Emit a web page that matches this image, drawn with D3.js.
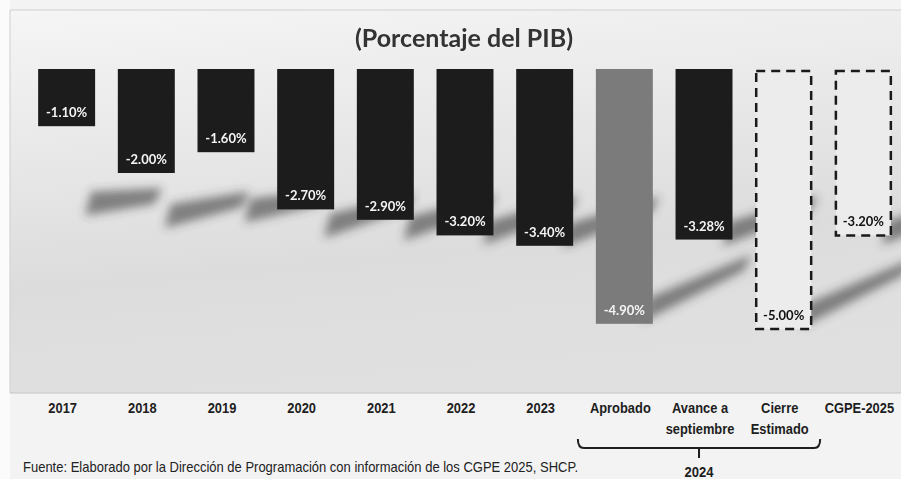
<!DOCTYPE html>
<html>
<head>
<meta charset="utf-8">
<script src="https://cdn.jsdelivr.net/npm/d3@7"></script>
<style>
  html, body { margin: 0; padding: 0; background: #ffffff; }
  svg { display: block; }
</style>
</head>
<body>
<svg id="chart" width="901" height="479"></svg>
<script>
// ---- Data ----
const categories = ["2017", "2018", "2019", "2020", "2021", "2022", "2023",
  "Aprobado", "Avance a\nseptiembre", "Cierre\nEstimado", "CGPE-2025"];
const values = [-1.10, -2.00, -1.60, -2.70, -2.90, -3.20, -3.40, -4.90, -3.28, -5.00, -3.20];
const barKinds = ["solid", "solid", "solid", "solid", "solid", "solid", "solid",
  "gray", "solid", "dashed", "dashed"];
const valueLabels = ["-1.10%", "-2.00%", "-1.60%", "-2.70%", "-2.90%", "-3.20%", "-3.40%",
  "-4.90%", "-3.28%", "-5.00%", "-3.20%"];
const groupLabel = "2024";
const groupMembers = ["Aprobado", "Cierre\nEstimado"];
const titleText = "(Porcentaje del PIB)";
const sourceText = "Fuente: Elaborado por la Dirección de Programación con información de los CGPE 2025, SHCP.";

// ---- Setup ----
const svg = d3.select("#chart");
const W = 901, H = 479;
const plot = { left: 10, top: 10, right: 901, bottom: 393 };

const x = d3.scaleBand().domain(categories).range([27, 903])
  .paddingInner(0.285).paddingOuter(0.14);
const y = d3.scaleLinear().domain([0, -5]).range([69, 329]);
const bw = x.bandwidth();

const defs = svg.append("defs");
const grad = defs.append("linearGradient").attr("id", "bg").attr("x1", 0).attr("y1", 0).attr("x2", 0.2).attr("y2", 1);
grad.append("stop").attr("offset", "0%").attr("stop-color", "#f5f5f5");
grad.append("stop").attr("offset", "35%").attr("stop-color", "#e9e9e9");
grad.append("stop").attr("offset", "70%").attr("stop-color", "#dcdcdc");
grad.append("stop").attr("offset", "100%").attr("stop-color", "#e0e0e0");
const blur = defs.append("filter").attr("id", "blur").attr("x", "-50%").attr("y", "-50%").attr("width", "200%").attr("height", "200%");
blur.append("feGaussianBlur").attr("stdDeviation", 5);

// page background
svg.append("rect").attr("width", W).attr("height", H).attr("fill", "#f3f3f3");
svg.append("rect").attr("x", 0).attr("y", 0).attr("width", plot.left).attr("height", H).attr("fill", "#fbfbfb");
// plot area
svg.append("rect").attr("x", plot.left).attr("y", plot.top)
  .attr("width", plot.right - plot.left).attr("height", plot.bottom - plot.top)
  .attr("fill", "url(#bg)");
svg.append("line").attr("x1", plot.left).attr("x2", plot.right).attr("y1", plot.top).attr("y2", plot.top)
  .attr("stroke", "#cfcfcf").attr("stroke-width", 1);
svg.append("line").attr("x1", plot.left).attr("x2", plot.left).attr("y1", plot.top).attr("y2", plot.bottom)
  .attr("stroke", "#cfcfcf").attr("stroke-width", 1);
svg.append("line").attr("x1", plot.left).attr("x2", plot.right).attr("y1", plot.bottom).attr("y2", plot.bottom)
  .attr("stroke", "#c4c4c4").attr("stroke-width", 1);

const data = categories.map((c, i) => ({ c, v: values[i], kind: barKinds[i], label: valueLabels[i] }));

// shadows
const shadowG = svg.append("g").attr("filter", "url(#blur)");
shadowG.selectAll("path").data(data).join("path")
  .attr("d", d => {
    const xr = x(d.c) + bw;
    const yb = y(d.v);
    const h = yb - y(0);
    const y0 = Math.max(yb - 2, 200 + 14 * Math.abs(d.v));
    const dx = 50 + 0.16 * h, dy = 0.2 * h;
    return d3.line()([[xr - 10, y0], [xr + dx, y0 - dy], [xr + dx + 8, y0 - dy - 16], [xr - 4, y0 - 24]]) + "Z";
  })
  .attr("fill", "#3e3e3e").attr("opacity", 0.6);

// title
svg.append("text").attr("x", 464).attr("y", 47).attr("text-anchor", "middle")
  .attr("font-family", "Lato, 'Open Sans', sans-serif").attr("font-weight", 700)
  .attr("font-size", 24).attr("fill", "#333")
  .attr("textLength", 218).attr("lengthAdjust", "spacingAndGlyphs")
  .text(titleText);

// bars
svg.append("g").selectAll("rect").data(data).join("rect")
  .attr("x", d => x(d.c) + (d.kind === "dashed" ? 1 : 0))
  .attr("y", d => y(0) + (d.kind === "dashed" ? 2 : 0))
  .attr("width", d => bw - (d.kind === "dashed" ? 2 : 0))
  .attr("height", d => y(d.v) - y(0) - (d.kind === "dashed" ? 2 : 0))
  .attr("fill", d => d.kind === "gray" ? "#7b7b7b" : d.kind === "dashed" ? "#ececec" : "#1c1c1c")
  .attr("stroke", d => d.kind === "dashed" ? "#1a1a1a" : "none")
  .attr("stroke-width", 2.5)
  .attr("stroke-dasharray", d => d.kind === "dashed" ? "9,6" : null);

// value labels
svg.append("g").selectAll("text").data(data).join("text")
  .attr("x", d => x(d.c) + bw / 2)
  .attr("y", d => y(d.v) - 9)
  .attr("text-anchor", "middle")
  .attr("font-family", "Lato, 'Open Sans', sans-serif").attr("font-weight", 700)
  .attr("font-size", 13)
  .attr("fill", d => d.kind === "dashed" ? "#111" : "#f4f4f4")
  .text(d => d.label);

// x axis
const axisFont = "'Liberation Sans', Arial, sans-serif";
const xAxis = d3.axisBottom(x).tickSize(0).tickPadding(0);
const gx = svg.append("g").attr("transform", `translate(-4,${plot.bottom})`).call(xAxis);
gx.select(".domain").remove();
gx.selectAll(".tick text")
  .attr("y", 20).attr("dy", 0)
  .attr("transform", "scale(0.86,1)")
  .attr("font-family", axisFont).attr("font-weight", 700).attr("font-size", 15)
  .attr("fill", "#1e1e1e")
  .each(function(d) {
    const t = d3.select(this);
    const lines = d.split("\n");
    t.text(null);
    lines.forEach((ln, i) => t.append("tspan").attr("x", 0).attr("dy", i === 0 ? 0 : 21).text(ln));
  });

// bracket for 2024 group
const bl = x(groupMembers[0]) - 18;
const br = x(groupMembers[1]) + bw + 8;
const bc = (bl + br) / 2;
const by = 448;
svg.append("path")
  .attr("d", `M${bl},${by - 9} Q${bl},${by} ${bl + 6},${by} L${br - 6},${by} Q${br},${by} ${br},${by - 9} M${bc},${by} L${bc},${by + 10}`)
  .attr("fill", "none").attr("stroke", "#1e1e1e").attr("stroke-width", 2);
svg.append("text").attr("x", bc).attr("y", 477).attr("text-anchor", "middle")
  .attr("font-family", axisFont).attr("font-weight", 700).attr("font-size", 15)
  .attr("textLength", 29).attr("lengthAdjust", "spacingAndGlyphs")
  .attr("fill", "#1e1e1e").text(groupLabel);

// source note
svg.append("text").attr("x", 23).attr("y", 472)
  .attr("font-family", axisFont).attr("font-size", 14.5)
  .attr("textLength", 555).attr("lengthAdjust", "spacingAndGlyphs")
  .attr("fill", "#222").text(sourceText);
</script>
</body>
</html>
